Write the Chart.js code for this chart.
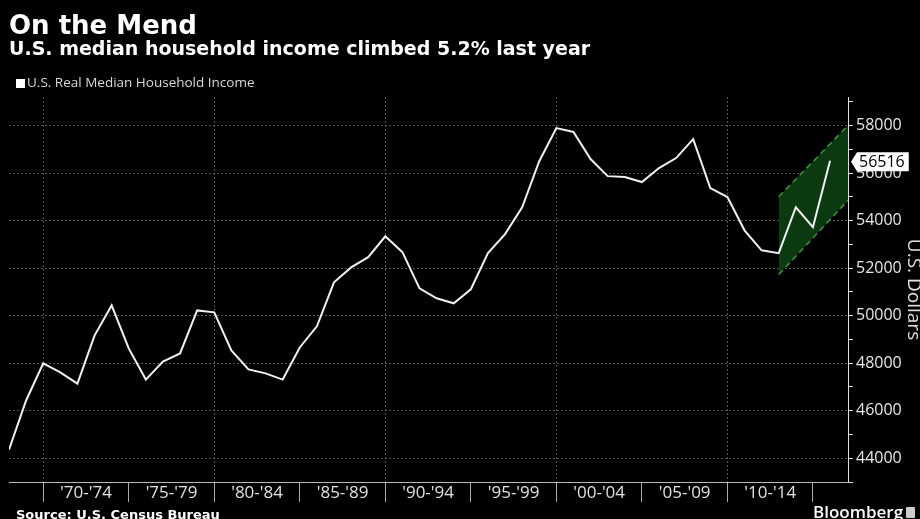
<!DOCTYPE html>
<html>
<head>
<meta charset="utf-8">
<script src="https://cdn.jsdelivr.net/npm/chart.js@4"></script>
<style>
  body { margin: 0; background: #000; }
  #wrap { position: relative; width: 920px; height: 519px; overflow: hidden; background: #000; }
  #chart { position: absolute; left: 0; top: 0; }
  .txt { position: absolute; white-space: nowrap; color: #fff; }
  #title { left: 9px; top: 12px; font: bold 26px/26px "DejaVu Sans"; }
  #subtitle { left: 9px; top: 39px; font: bold 19px/19px "DejaVu Sans"; }
  #legendBox { position: absolute; left: 16px; top: 79px; width: 9px; height: 9px; background: #fff; }
  #legend { left: 27px; top: 76px; font: 13.5px/13.5px "Open Sans"; color: #d8d8d8; }
  #source { left: 16px; top: 508px; font: bold 13px/13px "DejaVu Sans"; }
  #brand { left: 813px; top: 503px; font: 600 17px/17px "Open Sans"; }
  #brandIcon { position: absolute; left: 906px; top: 507px; width: 9px; height: 11px; background: #ccc; border-radius: 1px; }
</style>
</head>
<body>
<div id="wrap">
  <canvas id="chart" width="920" height="519"></canvas>
  <div class="txt" id="title">On the Mend</div>
  <div class="txt" id="subtitle">U.S. median household income climbed 5.2% last year</div>
  <div id="legendBox"></div>
  <div class="txt" id="legend">U.S. Real Median Household Income</div>
  <div class="txt" id="source">Source: U.S. Census Bureau</div>
  <div class="txt" id="brand">Bloomberg</div>
  <div id="brandIcon"></div>
</div>
<script>
// annual data, plotted at the end of each year
const years = [
  1967, 1968, 1969, 1970, 1971, 1972, 1973, 1974, 1975, 1976,
  1977, 1978, 1979, 1980, 1981, 1982, 1983, 1984, 1985, 1986,
  1987, 1988, 1989, 1990, 1991, 1992, 1993, 1994, 1995, 1996,
  1997, 1998, 1999, 2000, 2001, 2002, 2003, 2004, 2005, 2006,
  2007, 2008, 2009, 2010, 2011, 2012, 2013, 2014, 2015
];
const income = [
  44360, 46430, 47990, 47610, 47140, 49160, 50430, 48620, 47310, 48070,
  48410, 50220, 50140, 48540, 47740, 47570, 47310, 48660, 49550, 51400,
  52030, 52460, 53340, 52670, 51150, 50730, 50520, 51110, 52630, 53430,
  54560, 56500, 57890, 57730, 56590, 55870, 55830, 55620, 56210, 56630,
  57430, 55370, 54990, 53590, 52750, 52630, 54560, 53720, 56516
];

// green channel around the last years
const bandX = [2013, 2017.05];
const bandUpper = [55000, 58000];
const bandLower = [51730, 54850];

// x axis: 5-year bands
const bandStarts = [1970, 1975, 1980, 1985, 1990, 1995, 2000, 2005, 2010, 2015];
const bandLabels = ["'70-'74", "'75-'79", "'80-'84", "'85-'89", "'90-'94", "'95-'99", "'00-'04", "'05-'09", "'10-'14", ""];

// y axis
const yTicks = [];
for (let v = 43000; v <= 59000; v += 1000) yTicks.push(v);

const lastLabel = {
    id: 'lastLabel',
    afterDraw(chart) {
        const {ctx, chartArea, scales} = chart;
        const v = income[income.length - 1];
        const y = scales.y.getPixelForValue(v) + 1;
        const x = chartArea.right + 3;
        ctx.save();
        ctx.font = '16px "Open Sans"';
        const w = ctx.measureText(String(v)).width + 4;
        const h = 19;
        ctx.fillStyle = '#fff';
        ctx.beginPath();
        ctx.moveTo(x, y);
        ctx.lineTo(x + 6, y - h / 2);
        ctx.lineTo(x + 8 + w, y - h / 2);
        ctx.lineTo(x + 8 + w, y + h / 2);
        ctx.lineTo(x + 6, y + h / 2);
        ctx.closePath();
        ctx.fill();
        ctx.fillStyle = '#000';
        ctx.textBaseline = 'middle';
        ctx.fillText(String(v), x + 8, y + 1);
        ctx.restore();
    }
};

const ctx = document.getElementById('chart').getContext('2d');
new Chart(ctx, {
    type: 'line',
    data: {
        datasets: [
            {
                label: 'U.S. Real Median Household Income',
                data: years.map((yr, i) => ({x: yr + 1, y: income[i]})),
                borderColor: '#f0f0f0',
                borderWidth: 2,
                pointRadius: 0,
                tension: 0,
                fill: false
            },
            {
                label: 'upper',
                data: bandX.map((x, i) => ({x: x, y: bandUpper[i]})),
                borderColor: '#3a963a',
                borderWidth: 1.5,
                borderDash: [6, 4],
                backgroundColor: '#0c3a10',
                pointRadius: 0,
                fill: '+1'
            },
            {
                label: 'lower',
                data: bandX.map((x, i) => ({x: x, y: bandLower[i]})),
                borderColor: '#3a963a',
                borderWidth: 1.5,
                borderDash: [6, 4],
                pointRadius: 0,
                fill: false
            }
        ]
    },
    options: {
        responsive: false,
        animation: false,
        layout: { padding: { left: 9, top: 97, right: 0, bottom: 0 } },
        plugins: {
            legend: { display: false },
            tooltip: { enabled: false },
            filler: { drawTime: 'beforeDatasetsDraw' }
        },
        scales: {
            x: {
                type: 'linear',
                min: 1968,
                max: 2017.05,
                afterBuildTicks: s => { s.ticks = bandStarts.map(v => ({value: v})); },
                afterFit: s => { s.height = 37; },
                ticks: {
                    autoSkip: false,
                    maxRotation: 0,
                    color: '#e0e0e0',
                    font: { family: 'Open Sans', size: 17 },
                    padding: -19,
                    labelOffset: 42.8,
                    callback: (v, i) => bandLabels[i]
                },
                grid: {
                    color: c => (c.tick && c.tick.value % 10 === 0) ? '#555' : 'rgba(0,0,0,0)',
                    tickColor: '#aaa',
                    tickLength: 20,
                    lineWidth: 1
                },
                border: { color: '#bbb', width: 1, dash: [2, 2] }
            },
            y: {
                position: 'right',
                min: 43000,
                max: 59200,
                afterBuildTicks: s => { s.ticks = yTicks.map(v => ({value: v})); },
                afterFit: s => { s.width = 72; },
                ticks: {
                    autoSkip: false,
                    color: '#e6e6e6',
                    font: { family: 'Open Sans', size: 16 },
                    padding: 3,
                    callback: v => v % 2000 === 0 ? String(v) : ''
                },
                grid: {
                    color: c => (c.tick && c.tick.value % 2000 === 0) ? '#555' : 'rgba(0,0,0,0)',
                    tickColor: '#ddd',
                    tickLength: 5,
                    lineWidth: 1
                },
                border: { color: '#ddd', width: 1, dash: [2, 2] },
                title: {
                    display: true,
                    text: 'U.S. Dollars',
                    color: '#e0e0e0',
                    font: { family: 'Open Sans', size: 19, lineHeight: 1 },
                    padding: { top: -3, bottom: 0 }
                }
            }
        }
    },
    plugins: [lastLabel]
});
</script>
</body>
</html>
